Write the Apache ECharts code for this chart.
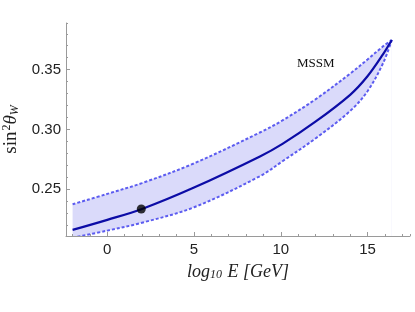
<!DOCTYPE html>
<html><head><meta charset="utf-8">
<script src="https://cdn.jsdelivr.net/npm/echarts@6/dist/echarts.min.js"></script>
<style>html,body{margin:0;padding:0;background:#fff}#c{width:415px;height:312px}</style>
</head><body><div id="c"></div>
<script>
// log10 E [GeV] sample positions
const logE    = [-2, 0, 2, 5, 8.8, 10.1, 12, 14, 15, 15.9, 16.4];
const central = [0.2161, 0.2245, 0.2336, 0.2515, 0.2775, 0.2880, 0.3065, 0.3290, 0.3445, 0.3630, 0.3748];
const upper   = [0.2375, 0.2462, 0.2552, 0.2717, 0.2975, 0.3076, 0.3252, 0.3467, 0.3585, 0.3695, 0.3748];
const lower   = [0.2095, 0.2155, 0.2221, 0.2350, 0.2610, 0.2735, 0.2925, 0.3155, 0.3320, 0.3555, 0.3748];
const mzPoint = [1.96, 0.2336];
const labelText = 'MSSM';
const labelPos = [12.02, 0.355];

const pair = (xs, ys) => xs.map((x, i) => [x, ys[i]]);

const axisGray = '#9a9a9a';
const tickFont = {fontFamily: 'Liberation Sans', fontSize: 15, color: '#222'};
const serif = 'Liberation Serif';
const dashStyle = {color: '#5c5cf0', width: 2, type: [3, 2]};
const smoothOpts = {smooth: 0.35, symbol: 'none'};

const chart = echarts.init(document.getElementById('c'), null, {renderer: 'canvas'});
chart.setOption({
  animation: false,
  backgroundColor: '#fff',
  grid: {left: 66, top: 23, width: 344, height: 213, containLabel: false, outerBoundsMode: 'none'},
  xAxis: [{
    type: 'value', min: -2.38, max: 17.45, minInterval: 5, maxInterval: 5, z: 5,
    splitLine: {show: false},
    axisLine: {onZero: false, lineStyle: {color: axisGray, width: 1}},
    axisTick: {inside: true, length: 4, lineStyle: {color: axisGray}},
    axisLabel: Object.assign({margin: 6, showMinLabel: false, showMaxLabel: false,
      formatter: v => (Math.abs(v % 5) < 1e-9 ? String(v) : '')}, tickFont),
    name: '{i|log}{s|10}{i| E [GeV]}', nameLocation: 'middle', nameGap: 27,
    nameTextStyle: {rich: {
      i: {fontFamily: serif, fontStyle: 'italic', fontSize: 18, color: '#222'},
      s: {fontFamily: serif, fontStyle: 'italic', fontSize: 12, color: '#222', padding: [6, 1, 0, 0]}
    }}
  }, {
    type: 'value', min: -2.38, max: 17.45, minInterval: 1, maxInterval: 1, z: 5,
    position: 'bottom', splitLine: {show: false},
    axisLine: {show: false, onZero: false},
    axisTick: {inside: true, length: 2, lineStyle: {color: axisGray}},
    axisLabel: {show: false}
  }],
  yAxis: [{
    type: 'value', min: 0.211, max: 0.389, minInterval: 0.05, maxInterval: 0.05, z: 5,
    splitLine: {show: false},
    axisLine: {show: true, onZero: false, lineStyle: {color: axisGray, width: 1}},
    axisTick: {show: true, inside: true, length: 4, lineStyle: {color: axisGray}},
    axisLabel: Object.assign({margin: 5, showMinLabel: false, showMaxLabel: false,
      formatter: v => v.toFixed(2)}, tickFont),
    name: '{r|sin}{p|2}{t|θ}{w|W}', nameLocation: 'middle', nameGap: 20, nameRotate: 90,
    nameTextStyle: {rich: {
      r: {fontFamily: serif, fontSize: 19, color: '#222'},
      p: {fontFamily: serif, fontSize: 12, color: '#222', padding: [0, 0, 9, 1]},
      t: {fontFamily: serif, fontStyle: 'italic', fontSize: 19, color: '#222'},
      w: {fontFamily: serif, fontStyle: 'italic', fontSize: 12, color: '#222', padding: [7, 0, 0, 0]}
    }}
  }, {
    type: 'value', min: 0.211, max: 0.389, minInterval: 0.01, maxInterval: 0.01, z: 5,
    position: 'left', splitLine: {show: false},
    axisLine: {show: false, onZero: false},
    axisTick: {show: true, inside: true, length: 2, lineStyle: {color: axisGray}},
    axisLabel: {show: false}
  }],
  series: [
    Object.assign({
      name: 'bandFill', type: 'line', data: pair(logE, upper),
      lineStyle: {width: 0}, areaStyle: {color: '#dadafa', opacity: 1, origin: 'start'}, z: 1
    }, smoothOpts),
    Object.assign({
      name: 'bandCut', type: 'line', data: pair(logE, lower),
      lineStyle: {width: 0}, areaStyle: {color: '#ffffff', opacity: 1, origin: 'start'}, z: 2
    }, smoothOpts),
    Object.assign({
      name: 'lower', type: 'line', data: pair(logE, lower), lineStyle: dashStyle, z: 3
    }, smoothOpts),
    Object.assign({
      name: 'upper', type: 'line', data: pair(logE, upper), lineStyle: dashStyle, z: 3
    }, smoothOpts),
    Object.assign({
      name: 'central', type: 'line', data: pair(logE, central),
      lineStyle: {color: '#0c0ca6', width: 2.2}, z: 4,
      markPoint: {
        symbol: 'circle', symbolSize: 0,
        data: [{coord: labelPos}],
        label: {show: true, position: 'inside', formatter: labelText,
          fontFamily: serif, fontSize: 13, color: '#111'}
      }
    }, smoothOpts),
    {
      name: 'mz', type: 'scatter', data: [mzPoint], symbolSize: 9,
      itemStyle: {color: '#000'}, z: 6
    }
  ]
});
</script></body></html>
